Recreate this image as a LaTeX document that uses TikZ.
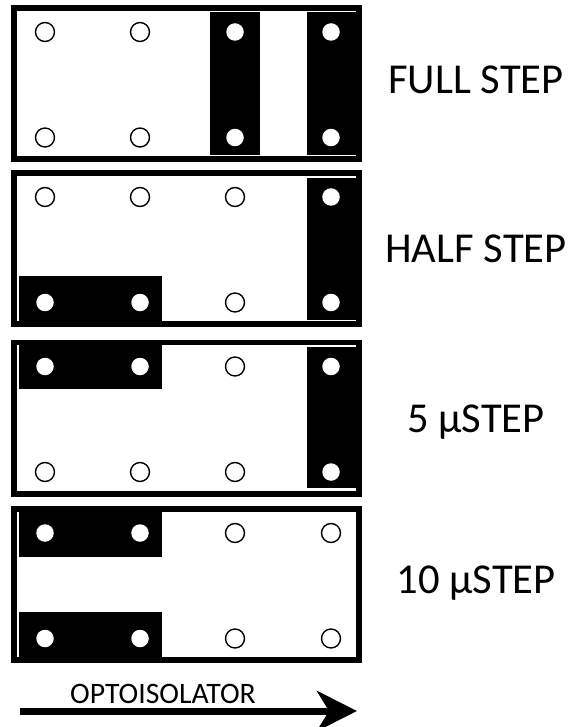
\documentclass[tikz,border=0pt]{standalone}
\usepackage{fontspec}
\setmainfont{Carlito}
\usetikzlibrary{arrows.meta}
\begin{document}
\begin{tikzpicture}[x=1pt,y=-1pt,
  frame/.style={draw=black,line width=5.7pt},
  bar/.style={fill=black},
  hole/.style={circle,draw=black,line width=1.4pt,fill=white,minimum size=19pt,inner sep=0pt},
  pin/.style={circle,fill=white,minimum size=17.5pt,inner sep=0pt},
  lab/.style={font=\fontsize{42.6}{48}\selectfont,anchor=base,inner sep=0pt},
  arrlab/.style={font=\fontsize{29.7}{34}\selectfont,anchor=base,inner sep=0pt}]
\useasboundingbox[fill=white] (0,0) rectangle (571,727);
% ---------- Box 1: FULL STEP ----------
\fill[bar] (210,12) rectangle (260,155);
\fill[bar] (307,12) rectangle (357,155);
\draw[frame] (13.85,7.85) rectangle (358.85,159.15);
\node[hole] (a11) at (45,32) {};
\node[hole] (a12) at (140,32) {};
\node[pin]  (a13) at (235,32) {};
\node[pin]  (a14) at (331,32) {};
\node[hole] (a21) at (45,137.5) {};
\node[hole] (a22) at (140,137.5) {};
\node[pin]  (a23) at (235,137.5) {};
\node[pin]  (a24) at (331,137.5) {};
\node[lab] (full) at (476,94) {FULL STEP};
% ---------- Box 2: HALF STEP ----------
\fill[bar] (19,276) rectangle (162,322);
\fill[bar] (307,178) rectangle (357,320);
\draw[frame] (13.85,172.85) rectangle (358.85,324.15);
\node[hole] (b11) at (45,197) {};
\node[hole] (b12) at (140,197) {};
\node[hole] (b13) at (235,197) {};
\node[pin]  (b14) at (331,197) {};
\node[pin]  (b21) at (45,302.5) {};
\node[pin]  (b22) at (140,302.5) {};
\node[hole] (b23) at (235,302.5) {};
\node[pin]  (b24) at (331,302.5) {};
\node[lab] (half) at (476,262) {HALF STEP};
% ---------- Box 3: 5 uSTEP ----------
\fill[bar] (19,345) rectangle (162,389);
\fill[bar] (307,347) rectangle (357,488);
\draw[frame] (13.85,342.35) rectangle (358.85,493.65);
\node[pin]  (c11) at (45,366.5) {};
\node[pin]  (c12) at (140,366.5) {};
\node[hole] (c13) at (235,366.5) {};
\node[pin]  (c14) at (331,366.5) {};
\node[hole] (c21) at (45,472) {};
\node[hole] (c22) at (140,472) {};
\node[hole] (c23) at (235,472) {};
\node[pin]  (c24) at (331,472) {};
\node[lab] (five) at (476,432) {5 µSTEP};
% ---------- Box 4: 10 uSTEP ----------
\fill[bar] (19,512) rectangle (162,557);
\fill[bar] (19,612) rectangle (162,658);
\draw[frame] (13.85,508.85) rectangle (358.85,660.15);
\node[pin]  (d11) at (45,533) {};
\node[pin]  (d12) at (140,533) {};
\node[hole] (d13) at (235,533) {};
\node[hole] (d14) at (331,533) {};
\node[pin]  (d21) at (45,638.5) {};
\node[pin]  (d22) at (140,638.5) {};
\node[hole] (d23) at (235,638.5) {};
\node[hole] (d24) at (331,638.5) {};
\node[lab] (ten) at (476,593) {10 µSTEP};
% ---------- Arrow ----------
\coordinate (arrS) at (20,711);
\coordinate (arrE) at (357,711);
\draw[line width=7pt,-{Stealth[length=40pt,width=40pt,inset=12pt]}] (arrS) -- (arrE);
\node[arrlab] (opto) at (163,703) {OPTOISOLATOR};
\end{tikzpicture}
\end{document}
